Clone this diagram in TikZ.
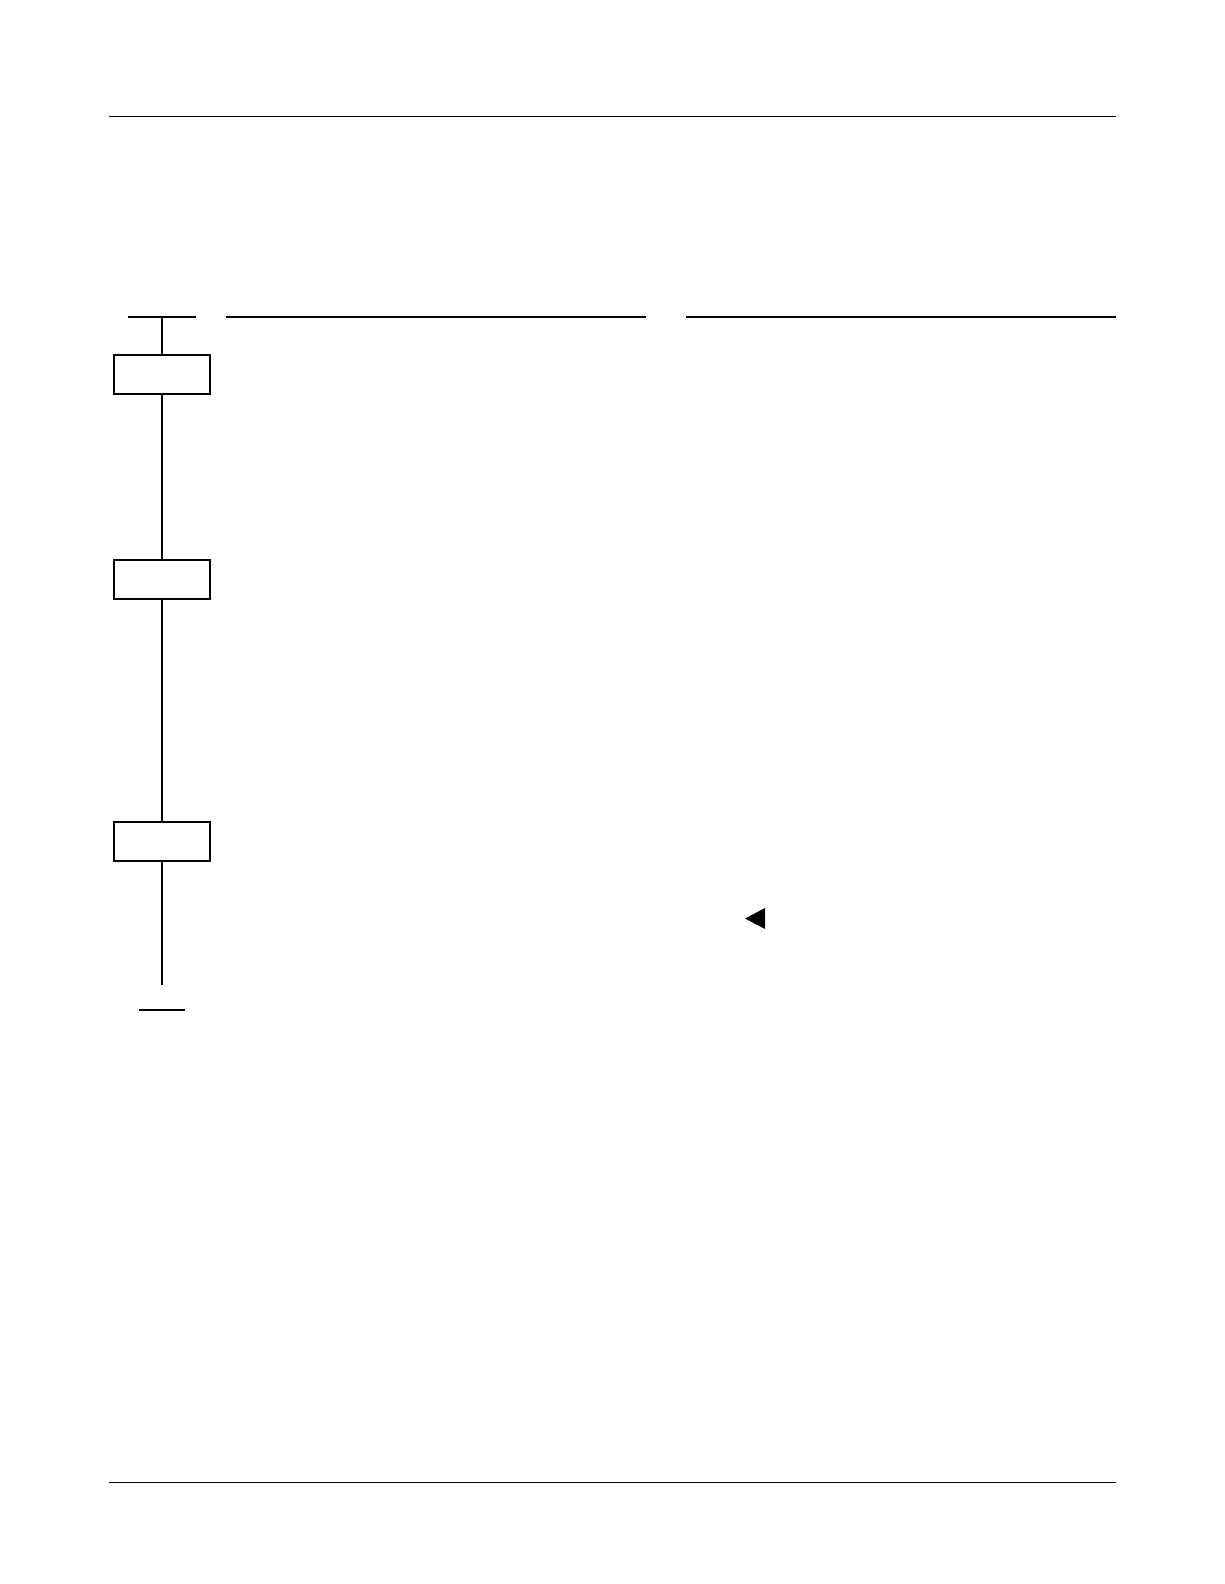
\documentclass[tikz,border=0pt]{standalone}
\usetikzlibrary{positioning,calc}

\begin{document}
\begin{tikzpicture}
[
    x=1pt, y=-1pt,
]

\tikzstyle{stepbox}=[rectangle, draw=black, line width=2pt, minimum width=96pt, minimum height=39pt, inner sep=0pt]
\tikzstyle{rail}=[draw=black, line width=2pt]
\tikzstyle{rule}=[draw=black, line width=1pt]

\useasboundingbox (0,0) rectangle (1224,1584);

% page rules
\coordinate (topL) at (109,117);
\coordinate (topR) at (1116,117);
\coordinate (botL) at (109,1482);
\coordinate (botR) at (1116,1482);
\draw [rule] (topL) -- (topR);
\draw [rule] (botL) -- (botR);

% header lines
\coordinate (barL) at (128,316.7);
\coordinate (barR) at (196,316.7);
\coordinate (headAL) at (226,316.7);
\coordinate (headAR) at (646,316.7);
\coordinate (headBL) at (686,316.7);
\coordinate (headBR) at (1116,316.7);
\draw [rail] (barL) -- (barR);
\draw [rail] (headAL) -- (headAR);
\draw [rail] (headBL) -- (headBR);

% steps
\node [stepbox] (s1) at (162,374.5) {};
\node [stepbox] (s2) at (162,579) {};
\node [stepbox] (s3) at (162,841) {};
\coordinate (top) at (162,316.7);
\coordinate (tail) at (162,985);
\draw [rail] (top) -- (s1.north);
\draw [rail] (s1.south) -- (s2.north);
\draw [rail] (s2.south) -- (s3.north);
\draw [rail] (s3.south) -- (tail);

% end bar
\coordinate (endL) at (139,1010);
\coordinate (endR) at (185,1010);
\draw [rail] (endL) -- (endR);

% marker
\fill [black] (765,908) -- (745,918.5) -- (765,929) -- cycle;
\end{tikzpicture}
\end{document}
